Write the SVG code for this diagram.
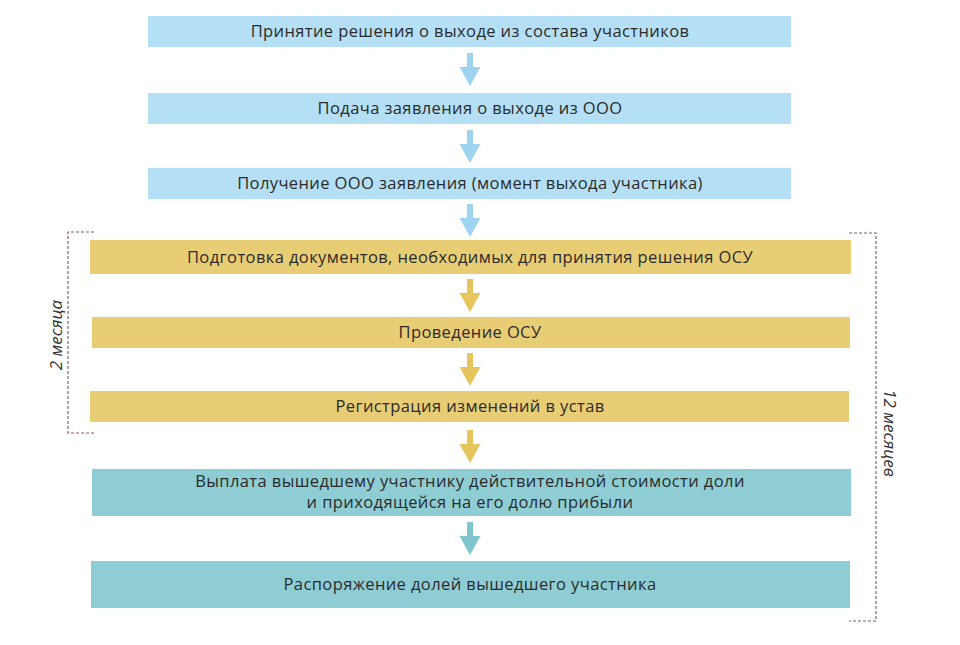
<svg xmlns="http://www.w3.org/2000/svg" width="960" height="645" viewBox="0 0 960 645">
<defs>
<style>
.t{font-family:"Open Sans","Liberation Sans",sans-serif;font-size:16.5px;letter-spacing:0.4px;fill:#2b2b2b;text-anchor:middle}
.lab{font-family:"Open Sans","Liberation Sans",sans-serif;font-size:17px;font-style:italic;fill:#333333;text-anchor:middle}
.blue{fill:#b4dff5}
.yel{fill:#e9cd74}
.teal{fill:#8fcdd4}
.ab{fill:#9fd4f0}
.ay{fill:#e6c65c}
.at{fill:#7ec5ce}
.br{fill:none;stroke:#8a5a66;stroke-width:1.2;stroke-dasharray:3 2}
</style>
</defs>
<rect width="960" height="645" fill="#ffffff"/>
<g id="connectors">
<path class="ab" d="M467 53h6v14h7.5l-10.5 19l-10.5-19h7.5z"/>
<path class="ab" d="M467 130h6v14h7.5l-10.5 19l-10.5-19h7.5z"/>
<path class="ab" d="M467 204h6v14h7.5l-10.5 19l-10.5-19h7.5z"/>
<path class="ay" d="M467 279h6v14h7.5l-10.5 19l-10.5-19h7.5z"/>
<path class="ay" d="M467 353h6v14h7.5l-10.5 19l-10.5-19h7.5z"/>
<path class="ay" d="M467 430h6v14h7.5l-10.5 19l-10.5-19h7.5z"/>
<path class="at" d="M467 522h6v14h7.5l-10.5 19l-10.5-19h7.5z"/>
</g>
<g id="n1"><rect class="blue" x="148" y="16" width="643" height="31"/><text class="t" x="470" y="37">Принятие решения о выходе из состава участников</text></g>
<g id="n2"><rect class="blue" x="148" y="93" width="643" height="31"/><text class="t" x="470" y="114">Подача заявления о выходе из ООО</text></g>
<g id="n3"><rect class="blue" x="148" y="168" width="643" height="31"/><text class="t" x="470" y="189">Получение ООО заявления (момент выхода участника)</text></g>
<g id="n4"><rect class="yel" x="90" y="240" width="761" height="34"/><text class="t" x="470" y="263">Подготовка документов, необходимых для принятия решения ОСУ</text></g>
<g id="n5"><rect class="yel" x="92" y="317" width="758" height="31"/><text class="t" x="470" y="338">Проведение ОСУ</text></g>
<g id="n6"><rect class="yel" x="90" y="391" width="759" height="31"/><text class="t" x="470" y="412">Регистрация изменений в устав</text></g>
<g id="n7"><rect class="teal" x="92" y="469" width="759" height="47"/><text class="t" x="470" y="487">Выплата вышедшему участнику действительной стоимости доли</text><text class="t" x="470" y="508">и приходящейся на его долю прибыли</text></g>
<g id="n8"><rect class="teal" x="91" y="561" width="759" height="47"/><text class="t" x="470" y="590">Распоряжение долей вышедшего участника</text></g>
<g id="bracket-2m"><path class="br" d="M94 232H68V433H94"/><text class="lab" transform="translate(62 335) rotate(-90)">2 месяца</text></g>
<g id="bracket-12m"><path class="br" d="M849 233H876V621H849"/><text class="lab" transform="translate(884 433) rotate(90)">12 месяцев</text></g>
</svg>
